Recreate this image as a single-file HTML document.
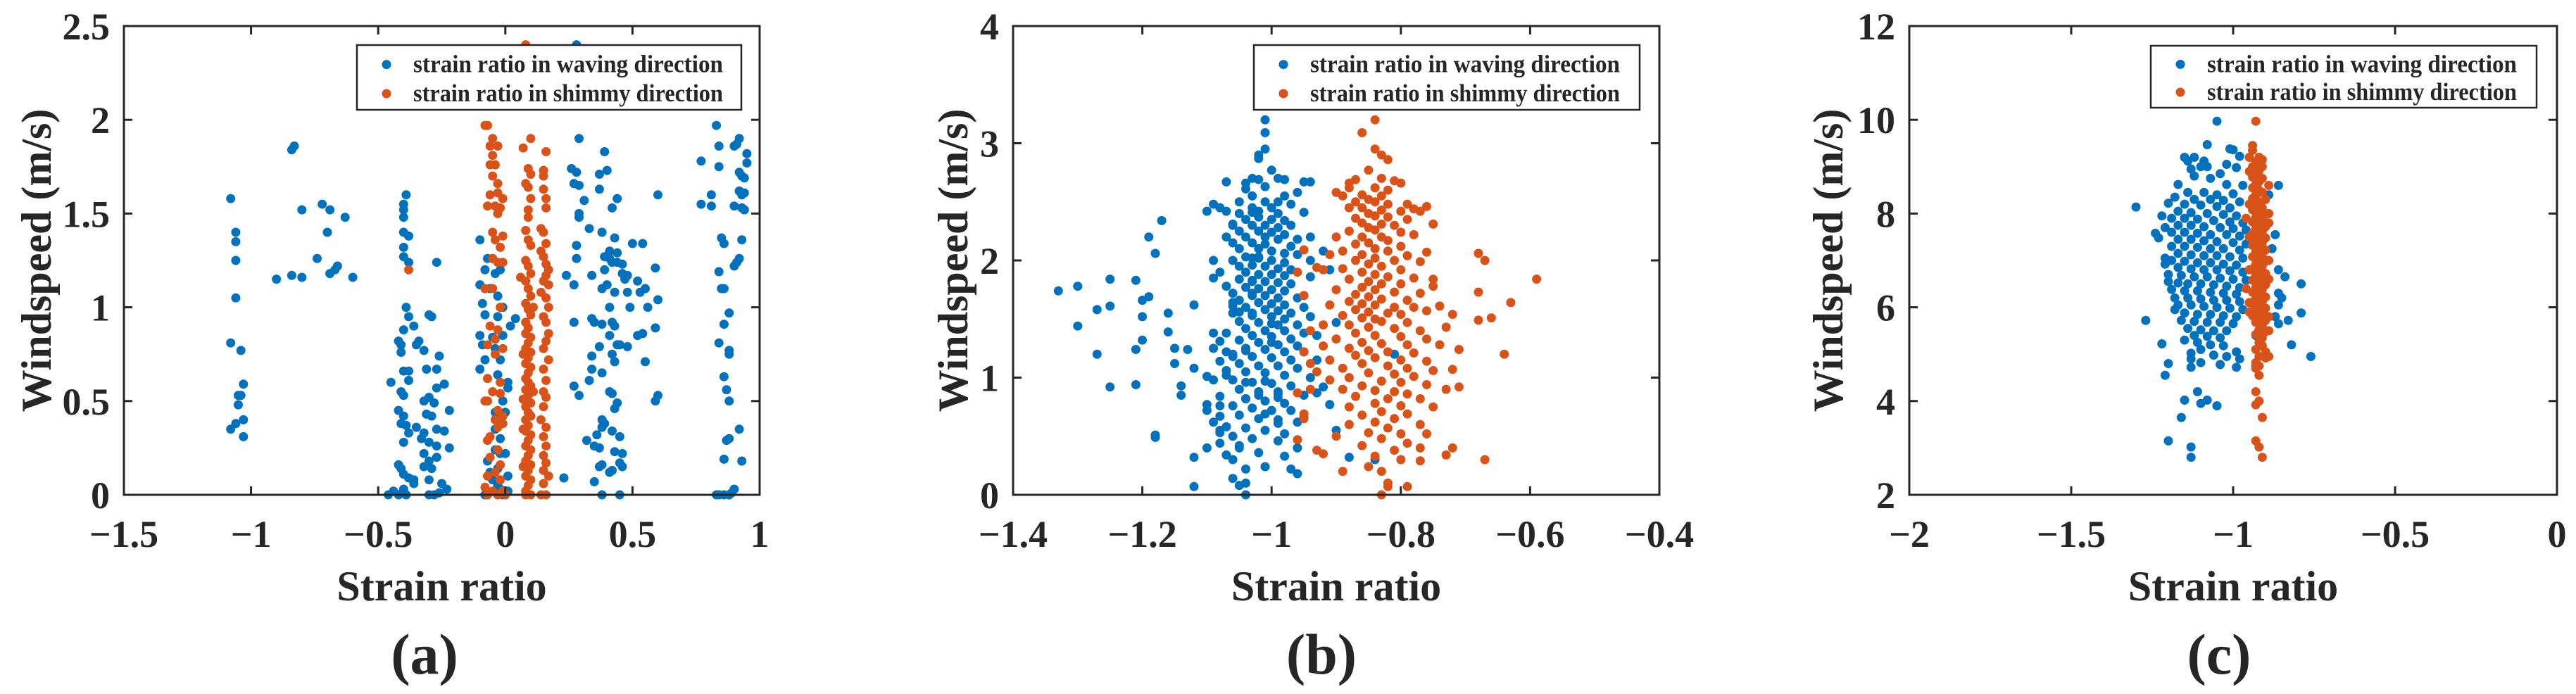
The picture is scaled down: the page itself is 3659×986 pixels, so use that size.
<!DOCTYPE html>
<html><head><meta charset="utf-8"><style>
html,body{margin:0;padding:0;background:#fff;}
svg{display:block;}
text{font-family:"Liberation Serif",serif;font-weight:bold;fill:#262626;}
</style></head><body>
<svg id="fig" width="3659" height="986" viewBox="0 0 3659 986" xmlns="http://www.w3.org/2000/svg"></svg>
<script>
// ---- Panel (a) data ----
const xTicksA = [-1.5,-1,-0.5,0,0.5,1];
const yTicksA = [0,0.5,1,1.5,2,2.5];
const xTickLabelsA = ["\u22121.5","\u22121","\u22120.5","0","0.5","1"];
const yTickLabelsA = ["0","0.5","1","1.5","2","2.5"];
const wavingA = [[-1.08,1.58],[-1.06,1.40],[-1.06,1.35],[-1.06,1.25],[-1.06,1.05],[-1.08,0.81],[-1.04,0.77],[-1.03,0.59],[-1.05,0.53],[-1.04,0.53],[-1.05,0.48],[-1.06,0.38],[-1.08,0.35],[-1.03,0.40],[-1.03,0.31],
[-0.83,1.86],[-0.84,1.84],[-0.80,1.52],[-0.72,1.55],[-0.69,1.52],[-0.63,1.48],[-0.70,1.40],[-0.74,1.26],[-0.66,1.22],[-0.67,1.20],[-0.69,1.18],[-0.60,1.16],[-0.80,1.16],[-0.84,1.17],[-0.90,1.15],
[-0.39,1.60],[-0.40,1.55],[-0.40,1.52],[-0.40,1.48],[-0.40,1.40],[-0.38,1.38],[-0.40,1.32],[-0.40,1.27],[-0.38,1.24],[-0.27,1.24],[-0.39,1.00],[-0.38,0.95],[-0.40,0.88],[-0.36,0.90],[-0.30,0.96],[-0.29,0.95],[-0.42,0.82],[-0.41,0.80],[-0.35,0.80],[-0.34,0.82],[-0.32,0.77],[-0.41,0.76],[-0.26,0.74],[-0.40,0.66],[-0.38,0.66],[-0.31,0.67],[-0.27,0.67],[-0.38,0.61],[-0.45,0.60],[-0.24,0.59],[-0.41,0.55],[-0.40,0.53],[-0.27,0.57],[-0.30,0.52],[-0.32,0.50],[-0.28,0.49],[-0.22,0.45],[-0.42,0.45],[-0.31,0.43],[-0.29,0.42],[-0.40,0.42],[-0.41,0.38],[-0.39,0.37],[-0.35,0.36],[-0.27,0.35],[-0.24,0.34],[-0.32,0.33],[-0.38,0.33],[-0.33,0.30],[-0.30,0.28],[-0.40,0.28],[-0.27,0.26],[-0.22,0.25],[-0.32,0.22],[-0.30,0.18],[-0.27,0.20],[-0.42,0.16],[-0.41,0.14],[-0.32,0.15],[-0.29,0.14],[-0.40,0.11],[-0.38,0.09],[-0.36,0.08],[-0.30,0.08],[-0.25,0.06],[-0.44,0.02],[-0.42,0.0],[-0.40,0.03],[-0.46,0.0],[-0.39,0.0],[-0.30,0.0],[-0.28,0.0],[-0.26,0.01],[-0.23,0.03],[-0.36,0.06],
[-0.10,1.36],[-0.07,1.26],[-0.05,1.26],[-0.08,1.20],[-0.04,1.18],[-0.02,1.20],[-0.10,1.12],[-0.06,1.10],[-0.03,1.06],[-0.09,1.02],[-0.01,1.00],[0.04,0.94],[-0.08,0.96],[-0.03,0.95],[0.02,0.90],[-0.10,0.85],[-0.05,0.84],[-0.01,0.85],[-0.09,0.80],[-0.04,0.78],[-0.02,0.72],[-0.08,0.72],[-0.10,0.67],[-0.03,0.64],[0.01,0.60],[0.01,0.57],[-0.01,0.50],[-0.04,0.44],[-0.02,0.42],[0.0,0.44],[-0.04,0.35],[-0.02,0.30],[-0.04,0.24],[-0.02,0.22],[0.0,0.22],[-0.07,0.18],[-0.03,0.14],[-0.06,0.12],[0.01,0.10],[-0.05,0.08],[-0.03,0.05],[-0.02,0.03],[0.01,0.02],[-0.08,0.0],[-0.01,0.0],
[0.28,2.40],[0.29,1.90],[0.26,1.74],[0.28,1.72],[0.31,1.57],[0.29,1.50],[0.29,1.48],[0.27,1.66],[0.29,1.65],[0.39,1.83],[0.40,1.73],[0.37,1.71],[0.37,1.63],[0.42,1.53],[0.44,1.58],[0.33,1.42],[0.38,1.40],[0.43,1.37],[0.28,1.33],[0.41,1.30],[0.44,1.29],[0.50,1.34],[0.54,1.34],[0.39,1.27],[0.41,1.26],[0.42,1.24],[0.44,1.24],[0.46,1.23],[0.28,1.26],[0.24,1.17],[0.27,1.12],[0.34,1.17],[0.39,1.20],[0.46,1.18],[0.48,1.17],[0.47,1.15],[0.52,1.14],[0.59,1.21],[0.38,1.10],[0.40,1.12],[0.43,1.08],[0.48,1.08],[0.53,1.08],[0.55,1.10],[0.41,1.00],[0.49,1.00],[0.56,1.00],[0.60,1.04],[0.27,0.92],[0.34,0.94],[0.35,0.92],[0.38,0.91],[0.42,0.92],[0.43,0.90],[0.59,0.89],[0.41,0.85],[0.52,0.85],[0.54,0.86],[0.44,0.80],[0.45,0.80],[0.48,0.79],[0.37,0.79],[0.42,0.75],[0.34,0.74],[0.43,0.71],[0.55,0.71],[0.34,0.67],[0.38,0.65],[0.27,0.58],[0.33,0.61],[0.41,0.55],[0.42,0.54],[0.29,0.53],[0.60,0.53],[0.59,0.50],[0.44,0.49],[0.43,0.46],[0.38,0.40],[0.39,0.38],[0.38,0.36],[0.42,0.34],[0.36,0.32],[0.45,0.31],[0.32,0.29],[0.35,0.26],[0.37,0.25],[0.43,0.23],[0.46,0.22],[0.38,0.16],[0.37,0.15],[0.45,0.17],[0.46,0.15],[0.42,0.13],[0.41,0.12],[0.23,0.09],[0.35,0.07],[0.38,0.0],[0.45,0.0],
[0.83,1.97],[0.92,1.90],[0.91,1.87],[0.90,1.86],[0.84,1.86],[0.95,1.82],[0.77,1.78],[0.84,1.75],[0.95,1.77],[0.92,1.72],[0.93,1.70],[0.94,1.69],[0.92,1.62],[0.94,1.61],[0.93,1.60],[0.60,1.60],[0.81,1.60],[0.77,1.55],[0.81,1.54],[0.90,1.54],[0.93,1.53],[0.94,1.52],[0.85,1.37],[0.86,1.34],[0.93,1.36],[0.84,1.19],[0.90,1.22],[0.92,1.26],[0.91,1.24],[0.85,1.10],[0.86,1.10],[0.88,0.97],[0.86,0.91],[0.84,0.81],[0.88,0.77],[0.88,0.75],[0.86,0.63],[0.87,0.56],[0.88,0.50],[0.92,0.35],[0.88,0.30],[0.87,0.29],[0.93,0.18],[0.86,0.19],[0.84,0.0],[0.86,0.0],[0.88,0.0],[0.89,0.01],[0.90,0.03],[0.83,0.0]];
const shimmyA = [[-0.07,1.97],[-0.08,1.97],[-0.05,1.90],[-0.03,1.86],[-0.06,1.86],[-0.05,1.81],[-0.06,1.76],[-0.04,1.76],[-0.05,1.70],[-0.03,1.66],[-0.06,1.60],[-0.03,1.61],[-0.01,1.58],[-0.07,1.54],[-0.04,1.54],[-0.02,1.53],[-0.03,1.50],[-0.05,1.40],[-0.01,1.38],[-0.04,1.36],[-0.02,1.32],[-0.05,1.26],[-0.03,1.24],[-0.01,1.24],[-0.08,1.10],[-0.05,1.10],[-0.02,1.00],[-0.06,0.90],[-0.03,0.88],[-0.04,0.83],[-0.07,0.80],[-0.01,0.78],[-0.04,0.75],[-0.07,0.62],[-0.02,0.60],[-0.05,0.55],[-0.02,0.54],[-0.08,0.50],[-0.07,0.50],[-0.03,0.45],[-0.01,0.42],[-0.04,0.40],[-0.01,0.38],[-0.03,0.36],[-0.06,0.31],[-0.07,0.29],[-0.03,0.24],[-0.06,0.20],[-0.02,0.16],[-0.04,0.12],[-0.07,0.10],[-0.02,0.08],[-0.08,0.04],[-0.05,0.02],[-0.01,0.02],[-0.07,0.0],[-0.03,0.0],[0.0,0.0],[-0.38,1.20],
[0.08,2.40],[0.10,1.90],[0.07,1.85],[0.09,1.74],[0.10,1.71],[0.08,1.66],[0.09,1.64],[0.10,1.58],[0.09,1.52],[0.09,1.48],[0.08,1.41],[0.09,1.36],[0.10,1.33],[0.06,1.16],[0.08,1.25],[0.09,1.22],[0.10,1.18],[0.08,1.14],[0.09,1.10],[0.10,1.06],[0.08,1.02],[0.09,0.99],[0.10,0.96],[0.08,0.92],[0.09,0.89],[0.08,0.86],[0.10,0.84],[0.09,0.81],[0.08,0.78],[0.10,0.76],[0.09,0.73],[0.08,0.70],[0.10,0.68],[0.09,0.65],[0.08,0.62],[0.09,0.60],[0.10,0.58],[0.08,0.56],[0.09,0.53],[0.07,0.51],[0.10,0.49],[0.08,0.47],[0.09,0.44],[0.10,0.42],[0.08,0.40],[0.09,0.37],[0.08,0.34],[0.10,0.32],[0.09,0.29],[0.08,0.26],[0.10,0.24],[0.09,0.21],[0.08,0.18],[0.10,0.16],[0.09,0.13],[0.08,0.10],[0.10,0.08],[0.09,0.05],[0.08,0.02],[0.10,0.0],[0.08,0.0],[0.07,0.35],[0.11,0.55],[0.07,0.75],[0.11,1.0],[0.07,0.15],
[0.16,1.83],[0.15,1.73],[0.15,1.70],[0.15,1.63],[0.16,1.58],[0.16,1.53],[0.14,1.42],[0.15,1.40],[0.16,1.34],[0.14,1.30],[0.15,1.27],[0.16,1.23],[0.17,1.20],[0.16,1.17],[0.15,1.14],[0.17,1.12],[0.14,1.08],[0.16,1.05],[0.17,1.00],[0.15,0.95],[0.16,0.92],[0.17,0.86],[0.16,0.82],[0.15,0.78],[0.17,0.72],[0.15,0.67],[0.16,0.61],[0.15,0.55],[0.16,0.52],[0.15,0.47],[0.14,0.40],[0.16,0.36],[0.15,0.31],[0.16,0.26],[0.15,0.21],[0.16,0.17],[0.15,0.13],[0.17,0.10],[0.15,0.06],[0.14,0.0],[0.16,0.0]];

// ---- Panel (b) data ----
const xTicksB = [-1.4,-1.2,-1,-0.8,-0.6,-0.4];
const yTicksB = [0,1,2,3,4];
const xTickLabelsB = ["\u22121.4","\u22121.2","\u22121","\u22120.8","\u22120.6","\u22120.4"];
const yTickLabelsB = ["0","1","2","3","4"];
const wavingB = [[-1.33,1.74],[-1.30,1.78],[-1.27,1.58],[-1.30,1.44],[-1.25,1.84],[-1.25,1.61],[-1.27,1.20],[-1.25,0.92],[-1.21,1.83],[-1.21,1.24],[-1.21,0.94],[-1.20,1.66],[-1.20,1.52],[-1.20,1.32],[-1.19,2.20],[-1.19,1.69],[-1.18,2.06],[-1.17,2.34],[-1.18,0.51],[-1.18,0.49],[-1.16,1.55],[-1.16,1.39],[-1.15,1.25],[-1.15,1.12],[-1.14,0.93],[-1.14,0.85],[-1.13,1.24],[-1.12,1.08],[-1.12,1.62],[-1.10,1.01],[-1.10,0.77],[-1.10,0.40],[-1.09,1.85],[-1.09,1.38],[-1.08,1.31],[-1.08,0.76],[-1.08,0.67],[-1.08,0.55],[-1.08,0.53],[-1.07,1.22],[-1.07,1.02],[-1.06,2.31],[-1.06,1.64],[-1.06,1.18],[-1.06,1.61],[-1.06,0.30],[-1.05,0.08],[-1.05,0.42],[-1.05,1.56],[-1.04,0.96],[-1.04,1.23],[-1.04,0.82],[-1.03,2.41],[-1.03,2.02],[-1.03,1.72],[-1.03,1.55],[-1.03,1.82],[-1.02,0.85],[-1.01,0.69],[-1.02,2.02],[-1.01,0.97],[-1.00,1.46],[-1.00,1.30],[-0.99,0.88],[-0.99,0.83],[-0.99,0.61],
[-1.01,3.20],[-1.01,3.09],[-1.01,2.95],[-1.02,2.90],[-1.02,2.87],[-1.00,2.77],[-1.03,2.70],[-1.02,2.69],[-0.99,2.70],[-0.98,2.69],[-1.04,2.66],[-1.07,2.67],[-1.01,2.63],[-0.95,2.67],[-0.96,2.58],[-0.98,2.55],[-1.04,2.61],[-1.03,2.55],[-1.05,2.50],[-1.01,2.50],[-0.99,2.50],[-0.97,2.48],[-1.10,2.42],[-1.08,2.45],[-1.09,2.48],[-1.07,2.42],[-1.05,2.40],[-1.03,2.45],[-1.02,2.42],[-1.00,2.45],[-0.99,2.40],[-0.95,2.41],[-1.04,2.35],[-1.02,2.37],[-1.00,2.35],[-0.98,2.34],[-1.06,2.30],[-1.03,2.30],[-1.01,2.30],[-0.99,2.28],[-0.97,2.30],[-1.05,2.25],[-1.02,2.25],[-1.00,2.24],[-0.98,2.22],[-0.94,2.20],[-1.07,2.20],[-1.04,2.20],[-1.01,2.20],[-0.99,2.18],[-0.96,2.18],[-1.06,2.15],[-1.03,2.15],[-1.01,2.14],[-0.97,2.12],[-1.05,2.10],[-1.02,2.10],[-1.00,2.08],[-0.98,2.06],[-0.96,2.05],[-1.09,2.00],[-1.06,2.00],[-1.04,2.03],[-1.02,2.03],[-1.00,2.00],[-0.98,1.98],[-0.94,2.00],[-1.05,1.95],[-1.03,1.96],[-1.01,1.95],[-0.99,1.93],[-0.97,1.92],[-1.08,1.90],[-1.04,1.90],[-1.02,1.88],[-1.00,1.88],[-0.98,1.87],[-0.94,1.86],[-1.05,1.84],[-1.03,1.83],[-1.01,1.82],[-0.99,1.81],[-0.97,1.80],[-1.07,1.78],[-1.04,1.77],[-1.02,1.76],[-1.00,1.75],[-0.98,1.74],[-1.06,1.72],[-1.03,1.70],[-1.01,1.70],[-0.99,1.68],[-0.96,1.68],[-1.05,1.66],[-1.02,1.64],[-1.00,1.63],[-0.98,1.62],[-0.95,1.60],[-1.04,1.60],[-1.01,1.58],[-0.99,1.57],[-0.97,1.55],[-1.06,1.55],[-1.03,1.53],[-1.00,1.52],[-0.98,1.50],[-0.94,1.52],[-1.05,1.48],[-1.02,1.47],[-0.99,1.45],[-0.96,1.45],[-1.04,1.42],[-1.01,1.40],[-0.98,1.40],[-0.95,1.38],[-1.07,1.38],[-1.03,1.36],[-1.00,1.35],[-0.97,1.33],[-0.93,1.36],[-1.05,1.32],[-1.02,1.30],[-0.99,1.28],[-0.96,1.27],[-1.09,1.25],[-1.04,1.25],[-1.01,1.24],[-0.98,1.22],[-0.95,1.22],[-1.06,1.20],[-1.03,1.18],[-1.00,1.17],[-0.97,1.15],[-0.93,1.15],[-1.08,1.14],[-1.05,1.12],[-1.02,1.10],[-0.99,1.10],[-0.96,1.08],[-1.07,1.06],[-1.04,1.05],[-1.01,1.04],[-0.98,1.02],[-0.94,1.00],[-1.09,0.98],[-1.06,0.98],[-1.03,0.96],[-1.00,0.95],[-0.97,0.93],[-0.92,0.92],[-1.05,0.90],[-1.02,0.88],[-0.99,0.86],[-0.95,0.85],[-1.08,0.84],[-1.04,0.82],[-1.01,0.80],[-0.98,0.78],[-1.06,0.76],[-1.03,0.74],[-1.00,0.72],[-0.97,0.72],[-1.10,0.72],[-1.05,0.68],[-1.02,0.65],[-0.99,0.64],[-0.96,0.62],[-1.09,0.62],[-1.07,0.58],[-1.04,0.57],[-1.01,0.55],[-0.98,0.52],[-1.06,0.50],[-1.03,0.48],[-0.99,0.46],[-0.96,0.40],[-1.08,0.44],[-1.05,0.40],[-1.02,0.36],[-0.98,0.33],[-1.07,0.34],[-1.12,0.32],[-1.04,0.22],[-1.01,0.24],[-0.97,0.22],[-1.06,0.14],[-1.04,0.10],[-1.04,0.00],[-1.12,0.07],[-0.96,0.18],[-0.90,0.55],[-0.91,0.77],[-0.90,1.47],[-0.91,1.92],[-0.92,2.08],[-0.88,0.32],[-0.84,0.30],[-0.81,1.20],[-0.95,0.66],[-0.93,0.87],[-0.94,2.67]];
const shimmyB = [[-0.84,3.20],[-0.86,3.09],[-0.84,2.95],[-0.83,2.90],[-0.82,2.86],[-0.85,2.77],[-0.83,2.70],[-0.87,2.69],[-0.81,2.68],[-0.80,2.66],[-0.88,2.66],[-0.84,2.62],[-0.82,2.60],[-0.90,2.58],[-0.86,2.56],[-0.83,2.55],[-0.89,2.55],[-0.85,2.52],[-0.87,2.50],[-0.84,2.50],[-0.82,2.48],[-0.79,2.48],[-0.76,2.46],[-0.88,2.45],[-0.86,2.45],[-0.83,2.43],[-0.80,2.42],[-0.77,2.42],[-0.85,2.40],[-0.84,2.38],[-0.82,2.37],[-0.87,2.36],[-0.79,2.35],[-0.75,2.31],[-0.86,2.32],[-0.83,2.31],[-0.81,2.30],[-0.85,2.28],[-0.84,2.26],[-0.88,2.25],[-0.80,2.24],[-0.78,2.22],[-0.86,2.20],[-0.83,2.20],[-0.90,2.20],[-0.82,2.17],[-0.85,2.15],[-0.87,2.14],[-0.80,2.12],[-0.84,2.10],[-0.82,2.08],[-0.89,2.08],[-0.86,2.05],[-0.91,2.05],[-0.79,2.04],[-0.84,2.02],[-0.81,2.00],[-0.87,2.00],[-0.77,1.99],[-0.85,1.97],[-0.83,1.95],[-0.93,1.94],[-0.89,1.93],[-0.80,1.92],[-0.86,1.90],[-0.84,1.88],[-0.82,1.86],[-0.78,1.85],[-0.75,1.84],[-0.88,1.84],[-0.85,1.82],[-0.83,1.80],[-0.80,1.80],[-0.75,1.78],[-0.86,1.77],[-0.84,1.75],[-0.90,1.75],[-0.81,1.73],[-0.77,1.72],[-0.87,1.71],[-0.85,1.69],[-0.83,1.67],[-0.79,1.66],[-0.95,1.70],[-0.88,1.65],[-0.86,1.63],[-0.84,1.62],[-0.81,1.60],[-0.78,1.60],[-0.91,1.62],[-0.74,1.61],[-0.87,1.58],[-0.85,1.56],[-0.82,1.55],[-0.80,1.54],[-0.89,1.53],[-0.76,1.57],[-0.72,1.54],[-0.86,1.51],[-0.84,1.50],[-0.83,1.48],[-0.79,1.47],[-0.92,1.45],[-0.88,1.45],[-0.85,1.43],[-0.81,1.42],[-0.77,1.40],[-0.73,1.43],[-0.94,1.40],[-0.87,1.38],[-0.84,1.36],[-0.80,1.35],[-0.90,1.33],[-0.76,1.33],[-0.86,1.30],[-0.83,1.29],[-0.79,1.28],[-0.74,1.28],[-0.92,1.27],[-0.88,1.25],[-0.85,1.23],[-0.82,1.22],[-0.78,1.21],[-0.95,1.22],[-0.71,1.24],[-0.87,1.19],[-0.84,1.17],[-0.80,1.15],[-0.76,1.14],[-0.91,1.15],[-0.94,1.12],[-0.86,1.12],[-0.82,1.10],[-0.79,1.08],[-0.89,1.08],[-0.75,1.06],[-0.72,1.07],[-0.93,1.05],[-0.85,1.04],[-0.81,1.03],[-0.78,1.01],[-0.88,1.00],[-0.91,0.98],[-0.83,0.97],[-0.80,0.96],[-0.76,0.94],[-0.86,0.93],[-0.89,0.90],[-0.84,0.89],[-0.81,0.88],[-0.79,0.86],[-0.73,0.90],[-0.94,0.90],[-0.96,0.87],[-0.87,0.84],[-0.82,0.82],[-0.77,0.82],[-0.84,0.78],[-0.80,0.76],[-0.88,0.75],[-0.75,0.75],[-0.83,0.71],[-0.86,0.68],[-0.79,0.69],[-0.95,0.69],[-0.81,0.65],[-0.84,0.62],[-0.77,0.60],[-0.88,0.60],[-0.82,0.57],[-0.95,0.65],[-0.85,0.53],[-0.80,0.52],[-0.76,0.52],[-0.83,0.48],[-0.90,0.50],[-0.79,0.44],[-0.86,0.42],[-0.81,0.38],[-0.77,0.40],[-0.93,0.38],[-0.72,0.40],[-0.84,0.33],[-0.92,0.35],[-0.80,0.30],[-0.77,0.29],[-0.73,0.34],[-0.85,0.24],[-0.83,0.20],[-0.89,0.20],[-0.82,0.10],[-0.82,0.07],[-0.79,0.07],[-0.83,0.00],[-0.96,0.47],[-0.67,0.30],[-0.68,2.06],[-0.67,2.00],[-0.59,1.84],[-0.63,1.64],[-0.68,1.73],[-0.66,1.51],[-0.68,1.49],[-0.64,1.20],[-0.71,0.92],[-0.95,2.09],[-0.92,1.92],[-0.96,1.90],[-0.88,2.62],[-0.78,2.44],[-0.76,2.07]];

// ---- Panel (c) data ----
const xTicksC = [-2,-1.5,-1,-0.5,0];
const yTicksC = [2,4,6,8,10,12];
const xTickLabelsC = ["\u22122","\u22121.5","\u22121","\u22120.5","0"];
const yTickLabelsC = ["2","4","6","8","10","12"];
const wavingC = [[-1.05,9.97],[-1.08,9.47],[-1.01,9.38],[-1.00,9.36],[-1.15,9.20],[-1.12,9.20],[-1.14,9.12],[-1.09,9.12],[-0.98,9.22],[-1.02,9.05],[-1.08,9.00],[-1.10,9.00],[-1.13,8.95],[-0.99,8.98],[-1.04,8.85],[-1.12,8.80],[-1.07,8.75],[-1.17,8.62],[-1.02,8.62],[-0.97,8.60],[-0.86,8.60],[-1.14,8.45],[-1.09,8.45],[-1.05,8.40],[-1.00,8.42],[-0.89,8.40],[-1.18,8.35],[-1.12,8.30],[-1.07,8.30],[-1.03,8.28],[-0.98,8.25],[-1.20,8.22],[-1.15,8.20],[-1.10,8.18],[-1.05,8.15],[-1.01,8.12],[-1.30,8.14],[-1.17,8.05],[-1.13,8.02],[-1.08,8.00],[-1.03,7.98],[-0.99,7.95],[-1.22,7.95],[-1.19,7.90],[-1.15,7.90],[-1.11,7.88],[-1.06,7.85],[-1.01,7.82],[-0.97,7.80],[-1.21,7.70],[-1.17,7.75],[-1.13,7.75],[-1.09,7.72],[-1.04,7.70],[-1.00,7.68],[-0.96,7.65],[-1.24,7.58],[-1.19,7.60],[-1.15,7.60],[-1.11,7.58],[-1.07,7.55],[-1.02,7.55],[-0.98,7.52],[-0.87,7.55],[-1.23,7.48],[-1.17,7.45],[-1.13,7.45],[-1.09,7.42],[-1.05,7.40],[-1.00,7.38],[-0.96,7.35],[-1.19,7.30],[-1.15,7.30],[-1.11,7.28],[-1.07,7.25],[-1.03,7.25],[-0.98,7.22],[-0.88,7.25],[-1.17,7.15],[-1.13,7.12],[-1.09,7.10],[-1.05,7.10],[-1.01,7.08],[-0.97,7.05],[-1.21,7.05],[-1.19,7.00],[-1.15,6.98],[-1.11,6.95],[-1.07,6.95],[-1.03,6.92],[-0.99,6.90],[-1.21,6.92],[-1.17,6.85],[-1.13,6.82],[-1.09,6.80],[-1.05,6.80],[-1.01,6.78],[-0.97,6.75],[-0.86,6.80],[-1.20,6.70],[-1.16,6.68],[-1.12,6.65],[-1.08,6.65],[-1.04,6.62],[-1.00,6.60],[-0.96,6.58],[-0.84,6.65],[-1.20,6.55],[-1.17,6.52],[-1.14,6.50],[-1.10,6.50],[-1.06,6.48],[-1.02,6.45],[-0.98,6.42],[-0.79,6.50],[-1.19,6.38],[-1.15,6.35],[-1.11,6.35],[-1.07,6.32],[-1.03,6.30],[-0.99,6.28],[-0.86,6.30],[-1.18,6.20],[-1.14,6.20],[-1.10,6.18],[-1.06,6.15],[-1.02,6.15],[-0.98,6.12],[-0.85,6.20],[-1.17,6.05],[-1.13,6.05],[-1.09,6.02],[-1.05,6.00],[-1.01,5.98],[-0.97,5.95],[-0.86,6.05],[-1.18,5.95],[-1.15,5.88],[-1.11,5.85],[-1.07,5.85],[-1.03,5.82],[-0.99,5.80],[-0.79,5.88],[-0.87,5.80],[-1.16,5.72],[-1.12,5.70],[-1.08,5.68],[-1.04,5.68],[-1.00,5.65],[-1.27,5.72],[-0.83,5.72],[-0.86,5.65],[-1.14,5.55],[-1.10,5.52],[-1.06,5.50],[-1.02,5.50],[-1.12,5.40],[-1.08,5.38],[-1.04,5.35],[-1.15,5.30],[-1.11,5.25],[-0.93,5.40],[-1.22,5.22],[-1.07,5.20],[-1.03,5.18],[-1.10,5.10],[-0.99,5.05],[-1.13,5.02],[-1.06,4.98],[-1.02,4.95],[-0.98,4.90],[-1.13,4.90],[-0.76,4.95],[-1.20,4.80],[-1.10,4.82],[-1.04,4.78],[-0.99,4.72],[-1.13,4.72],[-0.93,4.75],[-0.82,5.20],[-1.21,4.55],[-1.11,4.20],[-1.15,4.02],[-1.08,4.02],[-1.05,3.90],[-1.10,3.95],[-1.16,3.65],[-1.20,3.15],[-1.13,3.02],[-1.13,2.80]];
const shimmyC = [[-0.93,9.97],[-0.94,9.45],[-0.94,9.35],[-0.92,9.20],[-0.91,9.15],[-0.93,9.10],[-0.94,9.00],[-0.91,9.00],[-0.92,8.92],[-0.93,8.85],[-0.94,8.78],[-0.91,8.75],[-0.92,8.68],[-0.93,8.62],[-0.89,8.60],[-0.94,8.55],[-0.92,8.50],[-0.91,8.45],[-0.93,8.40],[-0.94,8.32],[-0.90,8.30],[-0.92,8.25],[-0.93,8.18],[-0.91,8.12],[-0.94,8.08],[-0.92,8.02],[-0.90,7.98],[-0.93,7.92],[-0.91,7.88],[-0.94,7.82],[-0.92,7.78],[-0.90,7.72],[-0.93,7.68],[-0.91,7.62],[-0.94,7.58],[-0.92,7.52],[-0.90,7.48],[-0.93,7.42],[-0.91,7.38],[-0.94,7.32],[-0.92,7.28],[-0.90,7.22],[-0.93,7.18],[-0.91,7.12],[-0.94,7.08],[-0.92,7.02],[-0.90,6.98],[-0.93,6.92],[-0.91,6.88],[-0.94,6.82],[-0.92,6.78],[-0.90,6.72],[-0.93,6.68],[-0.91,6.62],[-0.94,6.58],[-0.92,6.52],[-0.90,6.48],[-0.93,6.42],[-0.91,6.38],[-0.94,6.32],[-0.92,6.28],[-0.90,6.22],[-0.93,6.18],[-0.91,6.12],[-0.94,6.08],[-0.92,6.02],[-0.90,5.98],[-0.93,5.92],[-0.91,5.88],[-0.94,5.82],[-0.92,5.78],[-0.90,5.72],[-0.93,5.68],[-0.91,5.62],[-0.92,5.52],[-0.90,5.48],[-0.93,5.42],[-0.91,5.35],[-0.92,5.25],[-0.91,5.18],[-0.93,5.10],[-0.90,5.05],[-0.92,4.95],[-0.90,4.92],[-0.93,4.82],[-0.92,4.75],[-0.93,4.70],[-0.92,4.55],[-0.93,4.20],[-0.92,4.00],[-0.93,3.92],[-0.91,3.65],[-0.93,3.15],[-0.92,3.02],[-0.91,2.80],[-0.95,9.20],[-0.95,8.90],[-0.95,8.20],[-0.95,7.50],[-0.95,6.80],[-0.95,6.10],[-0.89,6.60],[-0.89,7.00],[-0.89,7.80],[-0.89,8.00],[-0.89,5.80],[-0.89,5.50],[-0.89,4.95],[-0.96,6.40],[-0.96,7.90],[-0.95,5.90]];

const BLUE = "#0072BD", ORANGE = "#D95319";
const NS = "http://www.w3.org/2000/svg";
const svg = document.getElementById("fig");
function mk(tag, attrs, parent) {
  const e = document.createElementNS(NS, tag);
  for (const k in attrs) e.setAttribute(k, attrs[k]);
  (parent || svg).appendChild(e);
  return e;
}
const panels = [
  {id:"a", L:176, R:1079, T:37, B:703, xmin:-1.5, xmax:1, ymin:0, ymax:2.5, xt:xTicksA, yt:yTicksA, xl:xTickLabelsA, yl:yTickLabelsA, w:wavingA, s:shimmyA, ytx:72, leg:[507,64,546,92], lab:603},
  {id:"b", L:1439, R:2357, T:37, B:703, xmin:-1.4, xmax:-0.4, ymin:0, ymax:4, xt:xTicksB, yt:yTicksB, xl:xTickLabelsB, yl:yTickLabelsB, w:wavingB, s:shimmyB, ytx:1374, leg:[1781,64,548,92], lab:1877},
  {id:"c", L:2712, R:3632, T:37, B:703, xmin:-2, xmax:0, ymin:2, ymax:12, xt:xTicksC, yt:yTicksC, xl:xTickLabelsC, yl:yTickLabelsC, w:wavingC, s:shimmyC, ytx:2617, leg:[3055,65,548,88], lab:3152}
];
const R_DOT = 6.5;
panels.forEach(p => {
  const g = mk("g", {});
  
  
  const sx = v => p.L + (v - p.xmin) / (p.xmax - p.xmin) * (p.R - p.L);
  const sy = v => p.B - (v - p.ymin) / (p.ymax - p.ymin) * (p.B - p.T);
  const pts = mk("g", {}, g);
  
  
  p.w.forEach(d => {
    const c = mk("circle", {cx:sx(d[0]).toFixed(1), cy:sy(d[1]).toFixed(1), r:R_DOT, fill:BLUE}, pts);
    
    
  });
  const pts2 = mk("g", {}, g);
  
  
  p.s.forEach(d => {
    const c = mk("circle", {cx:sx(d[0]).toFixed(1), cy:sy(d[1]).toFixed(1), r:R_DOT, fill:ORANGE}, pts2);
    
    
  });
  const box = mk("rect", {x:p.L, y:p.T, width:p.R-p.L, height:p.B-p.T, fill:"none", stroke:"#262626", "stroke-width":3}, g);
  
  
  p.xt.forEach((v,i) => {
    const x = sx(v);
    mk("line", {x1:x, y1:p.B, x2:x, y2:p.B-12, stroke:"#262626", "stroke-width":3}, g);
    mk("line", {x1:x, y1:p.T, x2:x, y2:p.T+12, stroke:"#262626", "stroke-width":3}, g);
    const t = mk("text", {x:x, y:777, "text-anchor":"middle", "font-size":54}, g);
    t.textContent = p.xl[i];
    
    
  });
  p.yt.forEach((v,i) => {
    const y = sy(v);
    mk("line", {x1:p.L, y1:y, x2:p.L+12, y2:y, stroke:"#262626", "stroke-width":3}, g);
    mk("line", {x1:p.R, y1:y, x2:p.R-12, y2:y, stroke:"#262626", "stroke-width":3}, g);
    const t = mk("text", {x:p.L-20, y:y+19, "text-anchor":"end", "font-size":54}, g);
    t.textContent = p.yl[i];
    
    
  });
  const xt = mk("text", {x:(p.L+p.R)/2, y:853, "text-anchor":"middle", "font-size":60}, g);
  xt.textContent = "Strain ratio";
  
  
  const yt = mk("text", {transform:`translate(${p.ytx},${(p.T+p.B)/2}) rotate(-90)`, "text-anchor":"middle", "font-size":60}, g);
  yt.textContent = "Windspeed (m/s)";
  
  
  const [lx, ly, lw, lh] = p.leg;
  const lg = mk("g", {}, g);
  
  
  mk("rect", {x:lx, y:ly, width:lw, height:lh, fill:"#fff", stroke:"#262626", "stroke-width":2.5}, lg);
  const rows = [[BLUE, "strain ratio in waving direction", ly + lh*0.30, 440], [ORANGE, "strain ratio in shimmy direction", ly + lh*0.75, 440]];
  rows.forEach(r => {
    mk("circle", {cx:lx+42, cy:r[2], r:R_DOT, fill:r[0]}, lg);
    const t = mk("text", {x:lx+80, y:r[2]+11, "font-size":35, textLength:r[3], lengthAdjust:"spacingAndGlyphs"}, lg);
    t.textContent = r[1];
    
    
  });
  const pl = mk("text", {x:p.lab, y:957, "text-anchor":"middle", "font-size":82, "font-weight":"normal"}, g);
  pl.textContent = "(" + p.id + ")";
  
  
});
</script>
</body></html>
